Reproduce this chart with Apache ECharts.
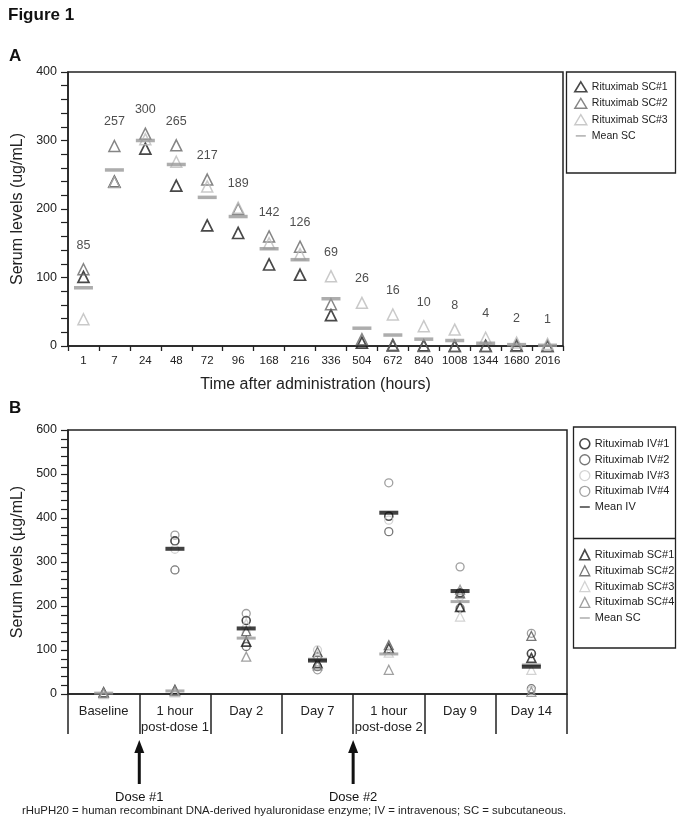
<!DOCTYPE html>
<html><head><meta charset="utf-8">
<script src="https://cdn.jsdelivr.net/npm/echarts@6/dist/echarts.min.js"></script>
<style>html,body{margin:0;padding:0;background:#fff}#c{width:683px;height:827px}</style>
</head><body><div id="c"></div>
<script>
// ---- Panel A data ----
const hoursA = ['1','7','24','48','72','96','168','216','336','504','672','840','1008','1344','1680','2016'];
const scA1 = [101,240,288,234,176,165,119,104,45,5,1,1,0,0,1,0];
const scA2 = [112,292,310,293,243,200,160,145,61,10,2,0,0,0,0,0];
const scA3 = [39,239,302,269,233,202,150,134,102,63,46,29,24,12,5,3];
const meanA = [85,257,300,265,217,189,142,126,69,26,16,10,8,4,2,1];

// ---- Panel B data ----
const visitsB = ['Baseline','1 hour\npost-dose 1','Day 2','Day 7','1 hour\npost-dose 2','Day 9','Day 14'];
const iv1 = [null,348,167,84,404,230,92];
const iv2 = [null,282,108,62,369,195,12];
const iv3 = [null,329,138,100,395,222,8];
const iv4 = [null,361,183,55,480,289,138];
const meanIV = [null,330,149,76,412,234,62];
const sc1 = [4,9,119,70,104,198,82];
const sc2 = [2,6,143,96,111,229,132];
const sc3 = [0,4,160,89,94,176,55];
const sc4 = [3,8,85,65,55,237,5];
const meanSC = [2,7,127,79,91,210,66];
const doses = [{after:0, text:'Dose #1'},{after:3, text:'Dose #2'}];

const FF = '"Liberation Sans", Arial, sans-serif';
const INK = '#222';
const chart = echarts.init(document.getElementById('c'), null, {renderer:'canvas'});

const barIcon = 'path://M0,0M20,20M0,8.5h20v3h-20z';

function pts(xi, yi, name, data, color, symbol, size, bw, z) {
  return {type:'scatter', name, xAxisIndex:xi, yAxisIndex:yi, data, symbol, symbolSize:size,
    itemStyle:{color:'rgba(0,0,0,0)', borderColor:color, borderWidth:bw}, z:z||2,
    emphasis:{disabled:true}, silent:true};
}
function bar(xi, yi, name, data, color, h, z) {
  return {type:'scatter', name, xAxisIndex:xi, yAxisIndex:yi, data, symbol:'rect', symbolSize:[19,h],
    itemStyle:{color}, z:z||3, emphasis:{disabled:true}, silent:true};
}

const labelAnchor = scA1.map((v,i)=>Math.max(v, scA2[i], scA3[i]));

const axisCommon = {
  axisLine:{show:true, lineStyle:{color:INK, width:1.5}},
  splitLine:{show:false},
};

const option = {
  animation:false,
  textStyle:{fontFamily:FF, color:INK},
  grid:[
    {left:68, top:72, width:495, height:274, show:true, borderColor:INK, borderWidth:1.5},
    {left:68, top:430, width:499, height:264, show:true, borderColor:INK, borderWidth:1.5}
  ],
  xAxis:[
    Object.assign({gridIndex:0, type:'category', data:hoursA, boundaryGap:true,
      axisTick:{show:true, interval:0, length:5, lineStyle:{color:INK, width:1.3}},
      axisLabel:{interval:0, fontSize:11.5, color:INK, margin:9, fontFamily:FF},
      name:'Time after administration (hours)', nameLocation:'middle', nameGap:31,
      nameTextStyle:{fontSize:16, color:INK, fontFamily:FF}}, axisCommon),
    Object.assign({gridIndex:1, type:'category', data:visitsB, boundaryGap:true,
      axisTick:{show:true, interval:0, length:40, lineStyle:{color:INK, width:1.5}},
      axisLabel:{interval:0, fontSize:13, color:INK, margin:9, lineHeight:16, fontFamily:FF}}, axisCommon)
  ],
  yAxis:[
    Object.assign({gridIndex:0, type:'value', min:0, max:400, interval:100,
      axisTick:{show:true, length:7, lineStyle:{color:INK, width:1.2}},
      minorTick:{show:true, splitNumber:5, length:7, lineStyle:{color:INK, width:1.2}},
      axisLabel:{fontSize:12.5, color:INK, margin:11, fontFamily:FF},
      name:'Serum levels (ug/mL)', nameLocation:'middle', nameGap:37,
      nameTextStyle:{fontSize:16, color:INK, fontFamily:FF}}, axisCommon),
    Object.assign({gridIndex:1, type:'value', min:0, max:600, interval:100,
      axisTick:{show:true, length:7, lineStyle:{color:INK, width:1.2}},
      minorTick:{show:true, splitNumber:5, length:7, lineStyle:{color:INK, width:1.2}},
      axisLabel:{fontSize:12.5, color:INK, margin:11, fontFamily:FF},
      name:'Serum levels (\u00b5g/mL)', nameLocation:'middle', nameGap:37,
      nameTextStyle:{fontSize:16, color:INK, fontFamily:FF}}, axisCommon)
  ],
  legend:[
    {orient:'vertical', left:567, top:72, itemWidth:12, itemHeight:10, itemGap:5, padding:[9,8,33,7],
     textStyle:{fontSize:10.5, color:INK, fontFamily:FF}, selectedMode:false,
     data:[
       {name:'Rituximab SC#1', icon:'triangle', itemStyle:{color:'rgba(0,0,0,0)', borderColor:'#1a1a1a', borderWidth:1.6}},
       {name:'Rituximab SC#2', icon:'triangle', itemStyle:{color:'rgba(0,0,0,0)', borderColor:'#666', borderWidth:1.4}},
       {name:'Rituximab SC#3', icon:'triangle', itemStyle:{color:'rgba(0,0,0,0)', borderColor:'#bbb', borderWidth:1.4}},
       {name:'Mean SC', icon:barIcon, itemStyle:{color:'#999'}}
     ]},
    {orient:'vertical', left:574, top:433, itemWidth:10, itemHeight:10, itemGap:4.5, padding:[5,5,5,5],
     textStyle:{fontSize:11, color:INK, fontFamily:FF}, selectedMode:false,
     data:[
       {name:'Rituximab IV#1', icon:'circle', itemStyle:{color:'rgba(0,0,0,0)', borderColor:'#1a1a1a', borderWidth:1.6}},
       {name:'Rituximab IV#2', icon:'circle', itemStyle:{color:'rgba(0,0,0,0)', borderColor:'#555', borderWidth:1.3}},
       {name:'Rituximab IV#3', icon:'circle', itemStyle:{color:'rgba(0,0,0,0)', borderColor:'#c8c8c8', borderWidth:1.3}},
       {name:'Rituximab IV#4', icon:'circle', itemStyle:{color:'rgba(0,0,0,0)', borderColor:'#888', borderWidth:1.3}},
       {name:'Mean IV', icon:barIcon, itemStyle:{color:'#111'}}
     ]},
    {orient:'vertical', left:574, top:544, itemWidth:10, itemHeight:10, itemGap:4.5, padding:[5,5,5,5],
     textStyle:{fontSize:11, color:INK, fontFamily:FF}, selectedMode:false,
     data:[
       {name:'Rituximab SC#1 ', icon:'triangle', itemStyle:{color:'rgba(0,0,0,0)', borderColor:'#1a1a1a', borderWidth:1.6}},
       {name:'Rituximab SC#2 ', icon:'triangle', itemStyle:{color:'rgba(0,0,0,0)', borderColor:'#555', borderWidth:1.3}},
       {name:'Rituximab SC#3 ', icon:'triangle', itemStyle:{color:'rgba(0,0,0,0)', borderColor:'#c8c8c8', borderWidth:1.3}},
       {name:'Rituximab SC#4 ', icon:'triangle', itemStyle:{color:'rgba(0,0,0,0)', borderColor:'#888', borderWidth:1.3}},
       {name:'Mean SC ', icon:barIcon, itemStyle:{color:'#999'}}
     ]}
  ],
  series:[
    pts(0,0,'Rituximab SC#1', scA1, '#1a1a1a', 'triangle', 11, 1.7),
    pts(0,0,'Rituximab SC#2', scA2, '#666', 'triangle', 11, 1.5),
    pts(0,0,'Rituximab SC#3', scA3, '#bbb', 'triangle', 11, 1.5),
    bar(0,0,'Mean SC', meanA, '#999', 3.5),
    {type:'scatter', name:'labelsA', xAxisIndex:0, yAxisIndex:0, data:labelAnchor, symbol:'circle', symbolSize:1,
     itemStyle:{color:'rgba(0,0,0,0)'}, silent:true,
     label:{show:true, position:'top', distance:17, fontSize:12.5, color:INK, fontFamily:FF,
       formatter:p=>String(meanA[p.dataIndex])}},
    pts(1,1,'Rituximab IV#1', iv1, '#1a1a1a', 'circle', 8, 1.6),
    pts(1,1,'Rituximab IV#2', iv2, '#555', 'circle', 8, 1.3),
    pts(1,1,'Rituximab IV#3', iv3, '#c8c8c8', 'circle', 8, 1.3),
    pts(1,1,'Rituximab IV#4', iv4, '#888', 'circle', 8, 1.3),
    pts(1,1,'Rituximab SC#1 ', sc1, '#1a1a1a', 'triangle', 9, 1.6),
    pts(1,1,'Rituximab SC#2 ', sc2, '#555', 'triangle', 9, 1.3),
    pts(1,1,'Rituximab SC#3 ', sc3, '#c8c8c8', 'triangle', 9, 1.3),
    pts(1,1,'Rituximab SC#4 ', sc4, '#888', 'triangle', 9, 1.3),
    bar(1,1,'Mean SC ', meanSC, '#999', 3, 3),
    bar(1,1,'Mean IV', meanIV, '#111', 4, 4)
  ]
};
chart.setOption(option);

// graphics: titles, legend boxes, dose arrows, footnote
const c0 = chart.convertToPixel({xAxisIndex:1}, 0);
const c1 = chart.convertToPixel({xAxisIndex:1}, 1);
const band = c1 - c0;
const g = [
  {type:'text', left:8, top:7, style:{text:'Figure 1', font:'bold 17px '+FF, fill:'#111'}},
  {type:'text', left:9, top:48, style:{text:'A', font:'bold 17px '+FF, fill:'#111'}},
  {type:'text', left:9, top:400, style:{text:'B', font:'bold 17px '+FF, fill:'#111'}},
  {type:'rect', shape:{x:566.5, y:72, width:109, height:101}, style:{fill:'none', stroke:INK, lineWidth:1.3}},
  {type:'rect', shape:{x:573.5, y:427, width:102, height:221}, style:{fill:'none', stroke:INK, lineWidth:1.3}},
  {type:'line', shape:{x1:573.5, y1:538.5, x2:675.5, y2:538.5}, style:{stroke:INK, lineWidth:1.3}},
  {type:'text', left:22, top:805, style:{text:'rHuPH20 = human recombinant DNA-derived hyaluronidase enzyme; IV = intravenous; SC = subcutaneous.', font:'11.4px '+FF, fill:'#222'}}
];
doses.forEach(d=>{
  const x = chart.convertToPixel({xAxisIndex:1}, d.after) + band/2;
  g.push({type:'line', shape:{x1:x, y1:750, x2:x, y2:784}, style:{stroke:'#111', lineWidth:3}});
  g.push({type:'polygon', shape:{points:[[x-5,753],[x+5,753],[x,740]]}, style:{fill:'#111'}});
  g.push({type:'text', x:x, y:797, style:{text:d.text, font:'13px '+FF, fill:'#111', align:'center', verticalAlign:'middle'}});
});
chart.setOption({graphic:g});
</script></body></html>
